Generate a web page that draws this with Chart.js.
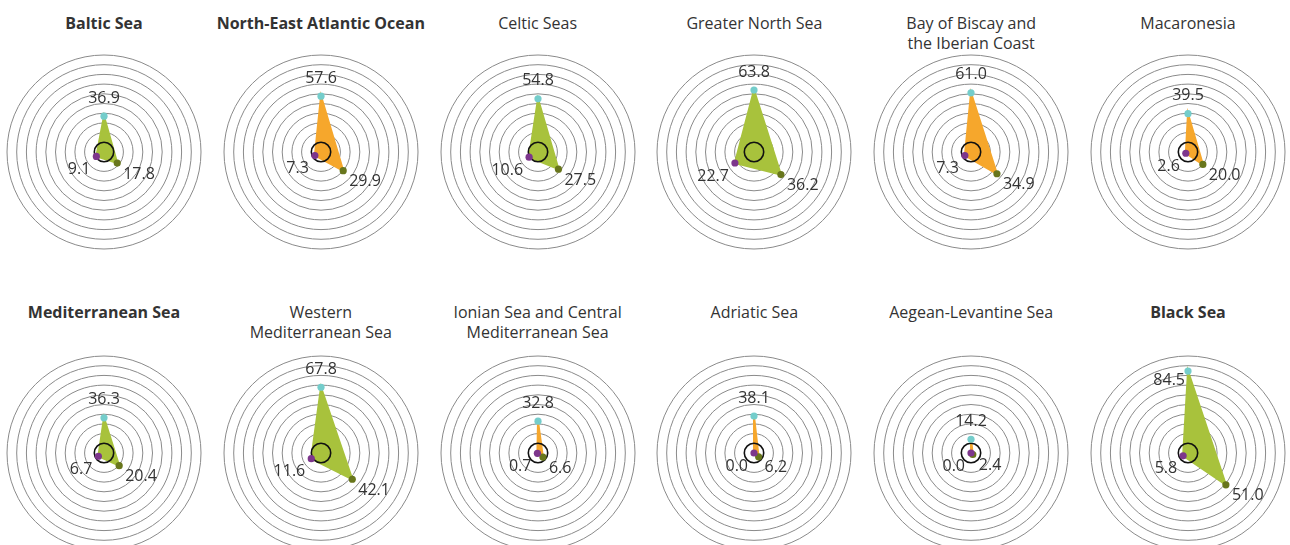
<!DOCTYPE html>
<html>
<head>
<meta charset="utf-8">
<title>Sea regions</title>
<script src="https://cdn.jsdelivr.net/npm/chart.js@4.4.0/dist/chart.umd.min.js"></script>
<style>
  html, body { margin: 0; padding: 0; background: #fff; overflow: hidden; }
  #wrap { position: relative; width: 1290px; height: 545px; overflow: hidden;
          font-family: "Open Sans", sans-serif; color: #333; }
  .title { position: absolute; width: 216px; text-align: center; font-size: 16px;
           line-height: 20px; white-space: pre-line; }
  .title.main { font-weight: 700; }
  canvas { position: absolute; }
</style>
</head>
<body>
<div id="wrap"></div>
<script>
// ── Data ────────────────────────────────────────────────────────────────
const regions = [
  "Baltic Sea", "North-East Atlantic Ocean", "Celtic Seas", "Greater North Sea",
  "Bay of Biscay and\nthe Iberian Coast", "Macaronesia",
  "Mediterranean Sea", "Western\nMediterranean Sea", "Ionian Sea and Central\nMediterranean Sea",
  "Adriatic Sea", "Aegean-Levantine Sea", "Black Sea",
];
const isMainRegion = [true, true, false, false, false, false, true, false, false, false, false, true];

// three measures per region (top, lower right, lower left)
const topValues   = [36.9, 57.6, 54.8, 63.8, 61.0, 39.5, 36.3, 67.8, 32.8, 38.1, 14.2, 84.5];
const rightValues = [17.8, 29.9, 27.5, 36.2, 34.9, 20.0, 20.4, 42.1,  6.6,  6.2,  2.4, 51.0];
const leftValues  = [ 9.1,  7.3, 10.6, 22.7,  7.3,  2.6,  6.7, 11.6,  0.7,  0.0,  0.0,  5.8];

// shape group: "a" = green shape, "b" = orange shape
const shapeGroup = ["a", "b", "a", "a", "b", "b", "a", "a", "b", "b", "b", "a"];

const ringValues = [10, 20, 30, 40, 50, 60, 70, 80, 90, 100];
const REFERENCE_RING = 10;

// ── Styling ─────────────────────────────────────────────────────────────
const GROUP_FILL = { a: "#a8c23c", b: "#f6a72c" };
const DOT_TOP    = "#74cdcb";
const DOT_RIGHT  = "#68761c";
const DOT_LEFT   = "#7d368c";
const TEXT       = "#333333";

// the three measures sit at 0°, 130° and 240°, so the radial axis is split in 10° steps
const STEPS = 36;
const IDX_TOP = 0, IDX_RIGHT = 13, IDX_LEFT = 24;
const angleLabels = Array.from({ length: STEPS }, () => "");

const COL_X = [104, 320.8, 537.6, 754.4, 971.2, 1188];
const ROW_Y = [152, 453];
const TITLE_TOP = [12.5, 301.5];
const SIZE = 216;

function series(i) {
  const arr = new Array(STEPS).fill(null);
  arr[IDX_TOP] = topValues[i];
  arr[IDX_RIGHT] = rightValues[i];
  arr[IDX_LEFT] = leftValues[i];
  return arr;
}

function dotColour(idx) {
  if (idx === IDX_TOP) return DOT_TOP;
  if (idx === IDX_RIGHT) return DOT_RIGHT;
  return DOT_LEFT;
}

// black reference ring, drawn over the shape but under the dots
const referenceRing = {
  id: "referenceRing",
  afterDatasetDraw(chart, args) {
    if (args.index !== 1) return;
    const s = chart.scales.r;
    const ctx = chart.ctx;
    ctx.save();
    ctx.beginPath();
    ctx.arc(s.xCenter, s.yCenter, s.getDistanceFromCenterForValue(REFERENCE_RING), 0, Math.PI * 2);
    ctx.strokeStyle = "#111";
    ctx.lineWidth = 1.6;
    ctx.stroke();
    ctx.restore();
  },
};

// value labels next to each dot
const valueLabels = {
  id: "valueLabels",
  afterDatasetsDraw(chart) {
    const meta = chart.getDatasetMeta(0);
    const data = chart.data.datasets[0].data;
    const s = chart.scales.r;
    const ctx = chart.ctx;
    ctx.save();
    ctx.font = '16px "Open Sans", sans-serif';
    ctx.fillStyle = TEXT;
    ctx.textBaseline = "middle";

    const top = meta.data[IDX_TOP];
    const topDist = s.getDistanceFromCenterForValue(data[IDX_TOP]);
    if (topDist + 24 > s.drawingArea) {
      ctx.textAlign = "right";
      ctx.fillText(data[IDX_TOP].toFixed(1), top.x - 3, top.y + 9);
    } else {
      ctx.textAlign = "center";
      ctx.fillText(data[IDX_TOP].toFixed(1), top.x, top.y - 18);
    }

    const right = meta.data[IDX_RIGHT];
    ctx.textAlign = "left";
    ctx.fillText(data[IDX_RIGHT].toFixed(1), right.x + 6, right.y + 11);

    const left = meta.data[IDX_LEFT];
    ctx.textAlign = "right";
    ctx.fillText(data[IDX_LEFT].toFixed(1), left.x - 6, left.y + 13);
    ctx.restore();
  },
};

const wrap = document.getElementById("wrap");

regions.forEach((name, i) => {
  const col = i % 6, row = Math.floor(i / 6);
  const cx = COL_X[col], cy = ROW_Y[row];

  const title = document.createElement("div");
  title.className = "title" + (isMainRegion[i] ? " main" : "");
  title.textContent = name;
  title.style.left = (cx - SIZE / 2) + "px";
  title.style.top = TITLE_TOP[row] + "px";
  wrap.appendChild(title);

  const canvas = document.createElement("canvas");
  canvas.width = SIZE;
  canvas.height = SIZE;
  canvas.style.left = (cx - SIZE / 2) + "px";
  canvas.style.top = (cy - SIZE / 2) + "px";
  wrap.appendChild(canvas);

  const values = series(i);
  const fill = GROUP_FILL[shapeGroup[i]];

  new Chart(canvas, {
    type: "radar",
    data: {
      labels: angleLabels,
      datasets: [
        {
          // dots
          data: values,
          showLine: false,
          fill: false,
          borderWidth: 0,
          pointRadius: 3.6,
          pointBorderWidth: 0,
          pointBackgroundColor: ctx => dotColour(ctx.dataIndex),
        },
        {
          // shape
          data: values,
          spanGaps: true,
          fill: "origin",
          backgroundColor: fill,
          borderColor: fill,
          borderWidth: 2,
          pointRadius: 0,
        },
      ],
    },
    options: {
      responsive: false,
      animation: false,
      layout: { padding: 11 },
      plugins: { legend: { display: false }, tooltip: { enabled: false } },
      scales: {
        r: {
          min: 0,
          max: 100,
          startAngle: 0,
          ticks: { display: false, stepSize: 10 },
          afterBuildTicks: s => { s.ticks = [0, ...ringValues].map(v => ({ value: v })); },
          pointLabels: { display: false },
          angleLines: { display: false },
          grid: {
            circular: true,
            color: ctx => ctx.tick && ctx.tick.value === REFERENCE_RING ? "rgba(0,0,0,0)" : "#8a8a8a",
            lineWidth: 1,
          },
        },
      },
    },
    plugins: [referenceRing, valueLabels],
  });
});
</script>
</body>
</html>
